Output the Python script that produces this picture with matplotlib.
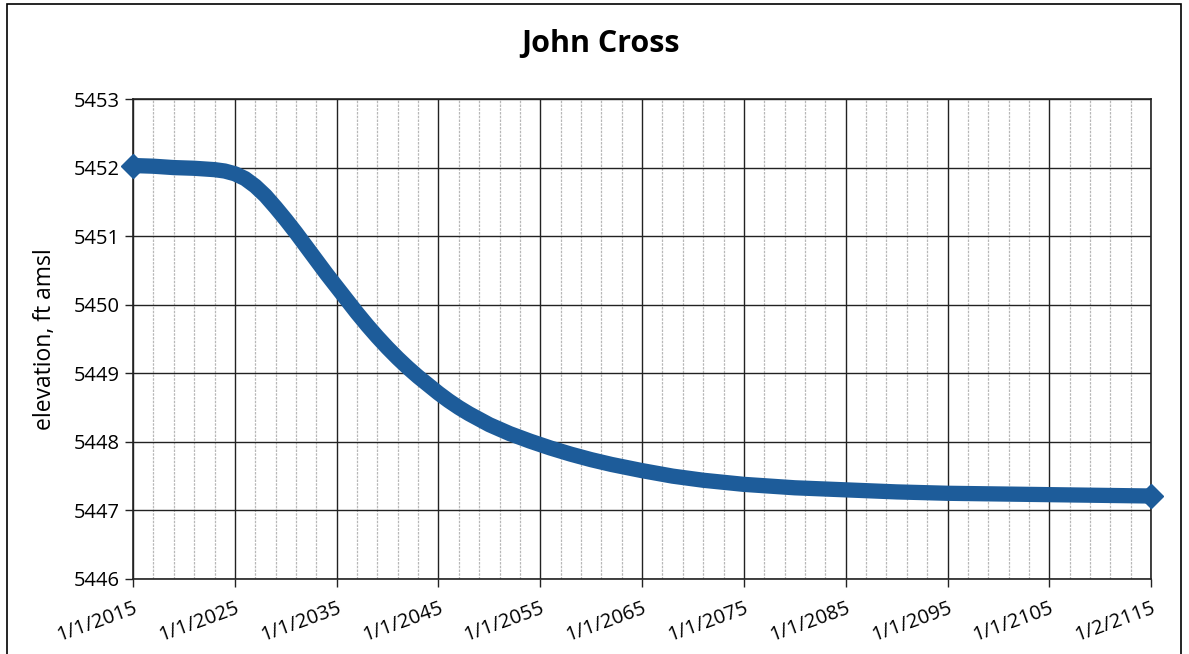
"""
John Cross - projected water elevation
"""

import matplotlib.pyplot as plt
from matplotlib.patches import Rectangle

# year and elevation (ft amsl)
years = [2015, 2017, 2019, 2021, 2023, 2024, 2025, 2026, 2027, 2028,
         2029, 2030, 2031, 2032, 2033, 2034, 2035, 2036, 2037, 2038,
         2039, 2040, 2041, 2042, 2043, 2044, 2045, 2046, 2047, 2048,
         2050, 2052, 2054, 2056, 2058, 2060, 2062, 2065, 2068, 2071,
         2075, 2080, 2085, 2090, 2095, 2100, 2105, 2110, 2115]
elevation = [5452.03, 5452.02, 5452.00, 5451.99, 5451.97, 5451.95, 5451.91, 5451.84, 5451.73, 5451.59,
             5451.42, 5451.24, 5451.05, 5450.85, 5450.65, 5450.45, 5450.26, 5450.07, 5449.88, 5449.70,
             5449.53, 5449.37, 5449.22, 5449.08, 5448.95, 5448.83, 5448.71, 5448.60, 5448.50, 5448.41,
             5448.25, 5448.12, 5448.01, 5447.91, 5447.82, 5447.74, 5447.67, 5447.58, 5447.50, 5447.44,
             5447.38, 5447.33, 5447.30, 5447.27, 5447.25, 5447.24, 5447.23, 5447.22, 5447.21]

tick_years = [2015, 2025, 2035, 2045, 2055, 2065, 2075, 2085, 2095, 2105, 2115]
tick_labels = ['1/1/2015', '1/1/2025', '1/1/2035', '1/1/2045', '1/1/2055', '1/1/2065',
               '1/1/2075', '1/1/2085', '1/1/2095', '1/1/2105', '1/2/2115']
y_ticks = [5446, 5447, 5448, 5449, 5450, 5451, 5452, 5453]

plt.rcParams['font.family'] = ['Open Sans', 'DejaVu Sans']

fig = plt.figure(figsize=(11.89, 6.54), dpi=100)
ax = fig.add_axes([0.1119, 0.1147, 0.8563, 0.7339])

# outer chart frame
fig.patches.append(Rectangle((0.006, -0.01), 0.987, 1.004, transform=fig.transFigure,
                             fill=False, edgecolor='black', linewidth=1.2))

# minor vertical grid every 2 years
for yr in range(2017, 2115, 2):
    if (yr - 2015) % 10 != 0:
        ax.axvline(yr, color='#b8b8b8', linewidth=0.9, linestyle=(0, (2, 1)), zorder=1)
for yr in tick_years:
    ax.axvline(yr, color='#222222', linewidth=1.0, zorder=1)
for v in y_ticks:
    ax.axhline(v, color='#222222', linewidth=1.0, zorder=1)

ax.plot(years, elevation, color='#1d5c9a', linewidth=11, solid_capstyle='butt',
        solid_joinstyle='round', marker='D', markersize=12,
        markevery=[0, len(years) - 1], clip_on=False, zorder=3)

ax.set_xlim(2015, 2115)
ax.set_ylim(5446, 5453)
ax.set_xticks(tick_years)
ax.set_xticklabels(tick_labels, rotation=20, ha='right', rotation_mode='anchor')
ax.set_yticks(y_ticks)
ax.tick_params(axis='both', labelsize=14.5, length=6, width=1, color='#222222')
ax.tick_params(axis='x', pad=8)
for s in ax.spines.values():
    s.set_color('#222222')
    s.set_linewidth(1.2)

ax.set_ylabel('elevation, ft amsl', fontsize=16.5, labelpad=12)
fig.text(0.505, 0.932, 'John Cross', ha='center', va='center', fontsize=22, fontweight='bold')

fig.savefig('out.png', dpi=100, facecolor='white')
